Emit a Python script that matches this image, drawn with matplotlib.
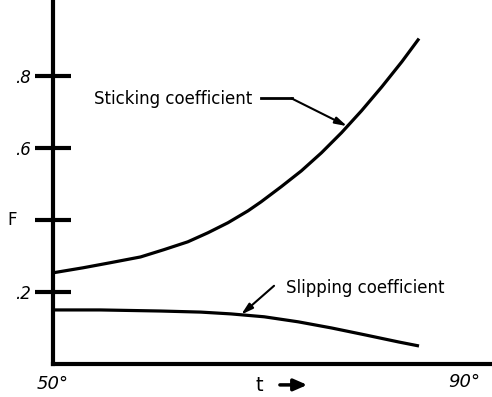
import matplotlib
matplotlib.use('Agg')
import matplotlib.pyplot as plt
import numpy as np

# sticking coefficient curve (t in degrees, F)
stickT = [50.0, 52.93, 55.57, 58.51, 60.76, 63.11, 65.06, 67.02, 68.97, 70.24, 72.20,
    74.16, 76.11, 78.07, 80.02, 81.98, 83.94, 85.60]
stickF = [0.253, 0.267, 0.281, 0.297, 0.317, 0.339, 0.364, 0.392, 0.425, 0.450, 0.492,
    0.536, 0.586, 0.642, 0.703, 0.769, 0.839, 0.903]

# slipping coefficient curve
slipT = [50.0, 54.60, 60.47, 64.38, 67.31, 70.54, 73.86, 77.09, 80.32, 83.64, 85.60]
slipF = [0.150, 0.150, 0.147, 0.144, 0.139, 0.131, 0.117, 0.100, 0.081, 0.061, 0.050]

yTicks = [0.2, 0.4, 0.6, 0.8]
yTickLabels = ['.2', '', '.6', '.8']

fig = plt.figure(figsize=(4.92, 3.97), dpi=100)
ax = fig.add_axes([53/492, 33/397, 1 - 53/492, 364/397])
ax.set_xlim(50, 92.7)
ax.set_ylim(0, 1.01)

ax.plot(stickT, stickF, color='black', lw=2.3, solid_capstyle='butt', solid_joinstyle='round')
ax.plot(slipT, slipF, color='black', lw=2.3, solid_capstyle='butt', solid_joinstyle='round')

for side in ['top', 'right']:
  ax.spines[side].set_visible(False)
for side in ['left', 'bottom']:
  ax.spines[side].set_linewidth(3)
  ax.spines[side].set_capstyle('projecting')

ax.set_yticks(yTicks)
ax.set_yticklabels(yTickLabels, fontsize=12, style='italic')
ax.tick_params(axis='y', direction='inout', length=26, width=3, pad=3)
ax.set_xticks([])
ax.text(-0.105, 0.4, 'F', transform=ax.get_yaxis_transform(), fontsize=12,
    ha='left', va='center')

ax.text(50.0, -0.055, '50°', fontsize=13, style='italic', ha='center', va='center', clip_on=False)
ax.text(90.0, -0.05, '90°', fontsize=13, style='italic', ha='center', va='center', clip_on=False)
ax.text(70.1, -0.06, 't', fontsize=14, ha='center', va='center', clip_on=False)
ax.annotate('', xy=(75.0, -0.058), xytext=(71.8, -0.058), annotation_clip=False,
    arrowprops=dict(arrowstyle='-|>,head_length=0.8,head_width=0.35', color='black', lw=2.5))

# annotations
ax.text(69.4, 0.735, 'Sticking coefficient', fontsize=12, ha='right', va='center')
ax.plot([70.2, 73.2], [0.737, 0.737], color='black', lw=2)
ax.annotate('', xy=(78.6, 0.66), xytext=(73.2, 0.737),
    arrowprops=dict(arrowstyle='-|>,head_length=0.7,head_width=0.2', color='black', lw=1.5,
    shrinkA=0, shrinkB=0))

ax.text(72.7, 0.21, 'Slipping coefficient', fontsize=12, ha='left', va='center')
ax.annotate('', xy=(68.3, 0.137), xytext=(71.5, 0.217),
    arrowprops=dict(arrowstyle='-|>,head_length=0.7,head_width=0.2', color='black', lw=1.5,
    shrinkA=0, shrinkB=0))

fig.savefig('out.png', dpi=100)
